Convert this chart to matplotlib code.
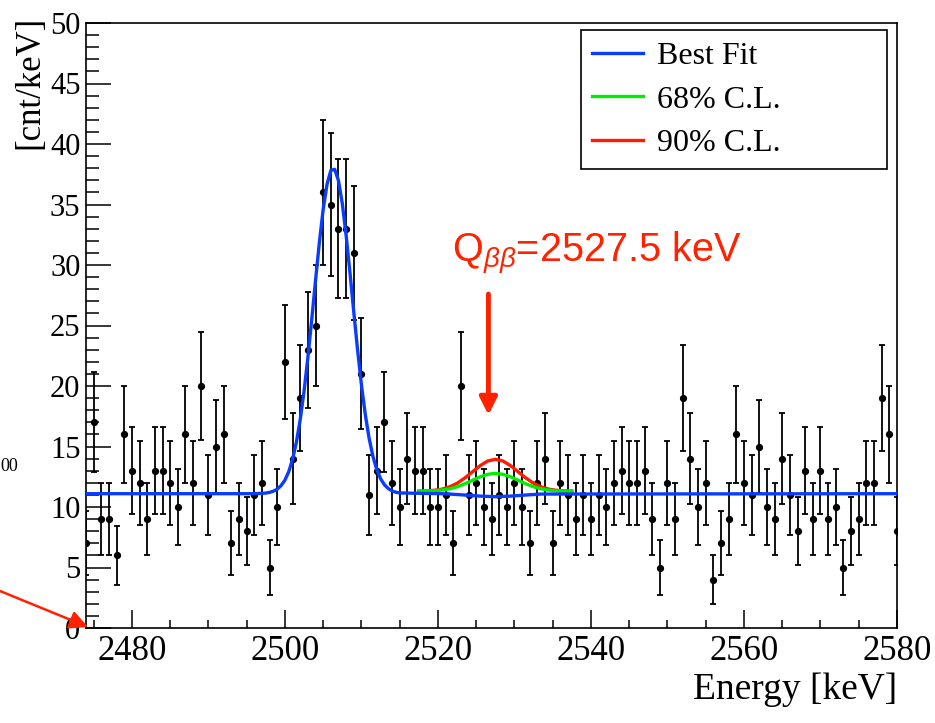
import matplotlib.pyplot as plt
import numpy as np
from matplotlib.ticker import MultipleLocator

plt.rcParams['font.family'] = ['Liberation Serif', 'DejaVu Serif']
plt.rcParams['mathtext.fontset'] = 'custom'
plt.rcParams['mathtext.rm'] = 'Liberation Sans'
plt.rcParams['mathtext.it'] = 'Liberation Sans:italic'

# measured spectrum, 1 keV bins from 2474 to 2580 keV
energy = np.arange(2474, 2581)
counts = [7, 17, 9, 9, 6, 16, 13, 12, 9, 13,
          13, 12, 10, 16, 12, 20, 11, 15, 16, 7,
          9, 8, 11, 12, 5, 10, 22, 14, 19, 23,
          25, 36, 35, 33, 33, 31, 21, 11, 13, 17,
          12, 10, 14, 13, 13, 10, 10, 11, 7, 20,
          11, 12, 10, 9, 11, 10, 12, 10, 7, 12,
          14, 7, 12, 11, 9, 11, 9, 11, 10, 12,
          13, 12, 12, 13, 9, 5, 12, 9, 19, 14,
          10, 12, 4, 7, 9, 16, 12, 11, 15, 10,
          9, 14, 11, 8, 13, 9, 13, 9, 10, 5,
          8, 9, 12, 12, 19, 16, 8]

# best fit curve
fit_e = [2474, 2496, 2497.5, 2498, 2498.5, 2499, 2499.5, 2500, 2500.5, 2501, 2501.5,
         2502, 2502.5, 2503, 2503.5, 2504, 2504.5, 2505, 2505.5, 2506, 2506.5,
         2507, 2507.5, 2508, 2508.5, 2509, 2509.5, 2510, 2510.5, 2511, 2511.5,
         2512, 2512.5, 2513, 2513.5, 2514, 2514.5, 2515, 2520.5,
         2521.5, 2523.5, 2525.5, 2527.5, 2529.5, 2531.5, 2533.5, 2580]
fit_v = [11.1, 11.1, 11.15, 11.21, 11.31, 11.48, 11.77, 12.22, 12.92, 13.94, 15.36,
         17.23, 19.57, 22.36, 25.46, 28.72, 31.86, 34.6, 36.66, 37.81, 37.91,
         36.97, 35.07, 32.45, 29.37, 26.11, 22.96, 20.1, 17.66, 15.69, 14.19,
         13.1, 12.34, 11.84, 11.53, 11.33, 11.22, 11.16, 11.1,
         11.07, 10.99, 10.9, 10.85, 10.9, 10.99, 11.07, 11.1]

# signal curves at the upper limits, around Q = 2527.5 keV
cl_e = [2517.5, 2518.5, 2519.5, 2520.5, 2521.5, 2522.5, 2523.5, 2524.5, 2525.5, 2526.5, 2527.5,
        2528.5, 2529.5, 2530.5, 2531.5, 2532.5, 2533.5, 2534.5, 2535.5, 2536.5, 2537.5]
cl68_v = [11.31, 11.32, 11.34, 11.40, 11.50, 11.67, 11.91, 12.20, 12.49, 12.70, 12.78,
          12.70, 12.49, 12.20, 11.91, 11.67, 11.50, 11.40, 11.34, 11.32, 11.31]
cl90_v = [11.31, 11.33, 11.38, 11.47, 11.66, 11.96, 12.39, 12.90, 13.41, 13.80, 13.94,
          13.80, 13.41, 12.90, 12.39, 11.96, 11.66, 11.47, 11.38, 11.33, 11.31]

fig = plt.figure(figsize=(9.35, 7.23), dpi=100)
ax = fig.add_axes([86/935, 95/723, 811/935, 605/723])

ax.errorbar(energy, counts, yerr=np.sqrt(counts), fmt='o', color='black',
            ms=4.2, elinewidth=1.3, capsize=2.5, capthick=1.3, zorder=2)

l90, = ax.plot(cl_e, cl90_v, color='#ff1a00', lw=2.4, zorder=3)
l68, = ax.plot(cl_e, cl68_v, color='#00ee00', lw=2.4, zorder=4)
lbf, = ax.plot(fit_e, fit_v, color='#0a3cff', lw=2.4, zorder=5)

leg = ax.legend([lbf, l68, l90], ['Best Fit', '68% C.L.', '90% C.L.'],
                loc='upper left', bbox_to_anchor=(0.610, 0.739, 0.378, 0.249),
                mode='expand', fontsize=23, handlelength=1.6, handletextpad=0.45,
                labelspacing=0.45, borderpad=0.35, borderaxespad=0,
                fancybox=False, framealpha=1)
leg.get_frame().set_edgecolor('black')
leg.get_frame().set_linewidth(1.2)

ax.set_xlim(2474, 2580)
ax.set_ylim(0, 50)
ax.xaxis.set_major_locator(MultipleLocator(20))
ax.xaxis.set_minor_locator(MultipleLocator(5))
ax.yaxis.set_major_locator(MultipleLocator(5))
ax.yaxis.set_minor_locator(MultipleLocator(1))
ax.tick_params(which='both', direction='in', width=1.1, labelsize=22)
ax.tick_params(axis='y', which='major', length=18, pad=4)
ax.tick_params(axis='y', which='minor', length=9.5)
ax.tick_params(axis='x', which='major', length=13, pad=5, labelsize=25)
ax.tick_params(axis='x', which='minor', length=6)
for s in ax.spines.values():
    s.set_linewidth(1.2)

fig.text(30/935, 1 - 82/723, '[cnt/keV]', rotation=90, fontsize=25,
         ha='center', va='center')
fig.text(897/935, 1 - 690/723, 'Energy [keV]', fontsize=27, ha='right', va='center')

ax.text(2521.8, 30.2, r'Q$_{\beta\beta}$=2527.5 keV', color='#ff2200', fontsize=28.5,
        family='Liberation Sans', va='baseline')
ax.annotate('', xy=(2526.6, 17.6), xytext=(2526.6, 27.6),
            arrowprops=dict(arrowstyle='-|>,head_length=0.4,head_width=0.2',
                            color='#ff2200', lw=3.5, mutation_scale=26,
                            shrinkA=0, shrinkB=0))

# bits of the neighbouring panel
fig.text(0, 1 - 466/723, '00', fontsize=13, ha='left', va='center')
ax.annotate('', xy=(88, 96), xycoords='figure pixels', xytext=(0, 132),
            textcoords='figure pixels', annotation_clip=False,
            arrowprops=dict(arrowstyle='-|>,head_length=0.5,head_width=0.25',
                            color='#ff2200', lw=1.8, mutation_scale=22,
                            shrinkA=0, shrinkB=0))

fig.savefig('out.png', dpi=100)
